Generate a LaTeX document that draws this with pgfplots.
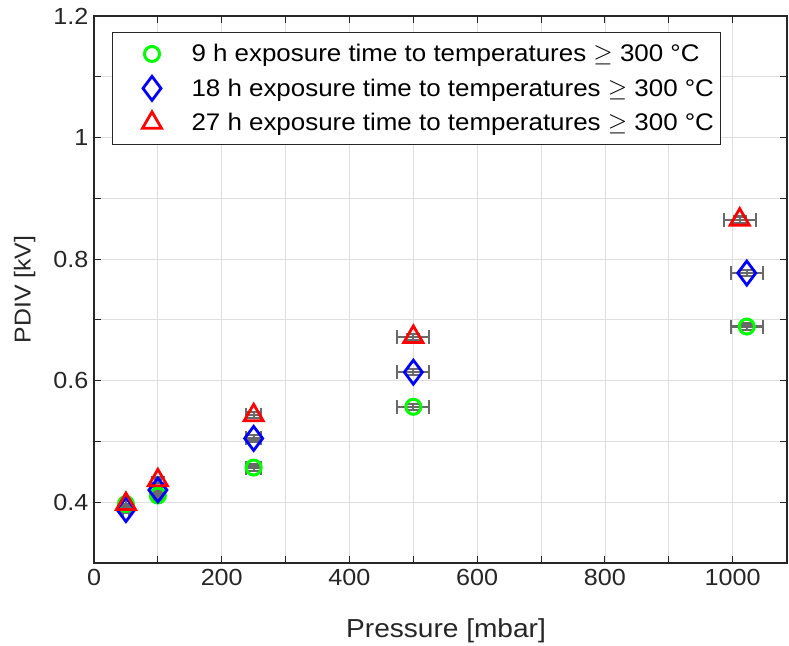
\documentclass[border=0pt]{standalone}
\usepackage{fontspec}
\setmainfont{Liberation Sans}[FakeStretch=1.08]
\usepackage{pgfplots}
\pgfplotsset{compat=1.18}
\definecolor{axgray}{RGB}{38,38,38}
\definecolor{gridgray}{RGB}{223,223,223}
\definecolor{ebgray}{RGB}{105,105,105}
\definecolor{mgreen}{RGB}{0,255,0}
\definecolor{mblue}{RGB}{0,0,255}
\definecolor{mred}{RGB}{255,0,0}
\begin{document}
\begin{tikzpicture}
\path[use as bounding box] (-94pt,-82pt) rectangle (695pt,563pt);
\begin{axis}[
  at={(0,0)}, anchor=south west,
  scale only axis, width=693pt, height=547pt,
  xmin=0, xmax=1085, ymin=0.3, ymax=1.2,
  xtick={0,200,400,600,800,1000},
  xticklabels={0,200,400,600,800,1000},
  minor xtick={100,300,500,700,900},
  ytick={0.4,0.6,0.8,1,1.2},
  yticklabels={0.4,0.6,0.8,1,1.2},
  minor ytick={0.3,0.5,0.7,0.9,1.1},
  grid=both,
  major grid style={gridgray, line width=0.9pt},
  minor grid style={gridgray, line width=0.9pt},
  tick align=inside,
  major tick length=7pt, minor tick length=7pt,
  every tick/.style={axgray, line width=1pt},
  every minor tick/.style={axgray, line width=1pt},
  axis line style={axgray, line width=1.3pt},
  tick label style={font=\fontsize{23.3}{27}\selectfont, text=axgray},
  xticklabel style={yshift=-3pt},
  yticklabel style={xshift=-2pt},
  xlabel={Pressure [mbar]}, ylabel={PDIV [kV]},
  xlabel style={font=\fontsize{26}{30}\selectfont, text=axgray, at={(axis description cs:0.508,-0.124)}, anchor=center},
  ylabel style={font=\fontsize{23}{27}\selectfont, text=axgray, at={(axis description cs:-0.1,0.5)}, anchor=center},
  legend style={at={(axis description cs:0,1)}, anchor=north west, xshift=18pt, yshift=-16pt,
    draw=axgray, line width=1pt, font=\fontsize{24}{28}\selectfont, fill=white,
    inner xsep=5pt, inner ysep=10pt, row sep=11pt},
  legend cell align=left,
  legend image code/.code={\path (-33pt,0pt) (36pt,0pt); \draw[#1, mark repeat=1] plot coordinates {(0pt,0pt)};},
]
\addplot[only marks, mark=o, mark size=7.5pt, draw=mgreen, line width=3pt] coordinates {
(50,0.397) (100,0.411) (250,0.457) (500,0.557) (1022,0.689)};
\addlegendentry{9 h exposure time to temperatures $\geq$ 300 °C}
\addplot[only marks, mark=diamond, mark size=12pt, draw=mblue, line width=2.8pt] coordinates {
(50,0.388) (100,0.420) (250,0.505) (500,0.614) (1022,0.777)};
\addlegendentry{18 h exposure time to temperatures $\geq$ 300 °C}
\addplot[only marks, mark=triangle, mark size=11pt, draw=mred, line width=2.8pt] coordinates {
(50,0.397) (100,0.436) (250,0.543) (500,0.672) (1011,0.865)};
\addlegendentry{27 h exposure time to temperatures $\geq$ 300 °C}
\addplot[forget plot, draw=none, mark=none,
  error bars/.cd, x dir=both, x explicit, y dir=both, y explicit, error mark=|,
  error bar style={draw=ebgray, line width=2.2pt},
  error mark options={draw=ebgray, mark size=7pt, line width=2.2pt}]
coordinates {
(50,0.397) +- (5,0.005) (100,0.411) +- (5,0.005) (250,0.457) +- (12,0.005) (500,0.557) +- (25,0.005) (1022,0.689) +- (25,0.005)
(50,0.388) +- (5,0.005) (100,0.420) +- (5,0.005) (250,0.505) +- (12,0.005) (500,0.614) +- (25,0.005) (1022,0.777) +- (25,0.005)
(50,0.397) +- (5,0.005) (100,0.436) +- (5,0.005) (250,0.543) +- (12,0.005) (500,0.672) +- (25,0.005) (1011,0.865) +- (25,0.005)};
\end{axis}
\end{tikzpicture}
\end{document}
